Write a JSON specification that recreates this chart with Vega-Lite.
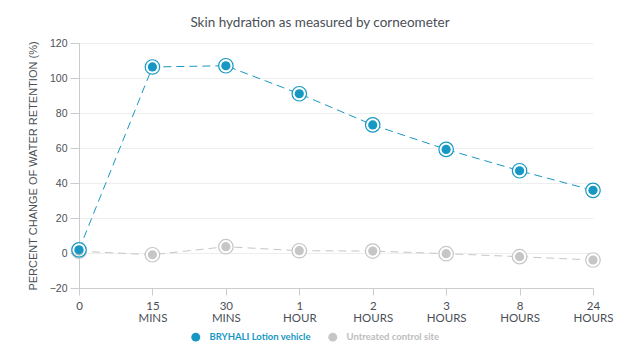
{
  "$schema": "https://vega.github.io/schema/vega-lite/v6.json",
  "width": 534,
  "height": 245,
  "autosize": {"type": "none"},
  "padding": {"left": 79, "top": 43, "right": 26, "bottom": 64},
  "background": "#ffffff",
  "title": {
    "text": "Skin hydration as measured by corneometer",
    "font": "Lato",
    "fontSize": 13.5,
    "fontWeight": "normal",
    "color": "#4a4f57",
    "anchor": "middle",
    "dx": -26,
    "offset": 9
  },
  "data": {
    "values": [
      {"time": "0", "series": "Untreated control site", "value": 1},
      {"time": "15 MINS", "series": "Untreated control site", "value": -1},
      {"time": "30 MINS", "series": "Untreated control site", "value": 3.6},
      {"time": "1 HOUR", "series": "Untreated control site", "value": 1.3},
      {"time": "2 HOURS", "series": "Untreated control site", "value": 1.1},
      {"time": "3 HOURS", "series": "Untreated control site", "value": -0.4},
      {"time": "8 HOURS", "series": "Untreated control site", "value": -2.1},
      {"time": "24 HOURS", "series": "Untreated control site", "value": -4},
      {"time": "0", "series": "BRYHALI Lotion vehicle", "value": 1.8},
      {"time": "15 MINS", "series": "BRYHALI Lotion vehicle", "value": 106.3},
      {"time": "30 MINS", "series": "BRYHALI Lotion vehicle", "value": 107},
      {"time": "1 HOUR", "series": "BRYHALI Lotion vehicle", "value": 91},
      {"time": "2 HOURS", "series": "BRYHALI Lotion vehicle", "value": 73.2},
      {"time": "3 HOURS", "series": "BRYHALI Lotion vehicle", "value": 59.2},
      {"time": "8 HOURS", "series": "BRYHALI Lotion vehicle", "value": 47},
      {"time": "24 HOURS", "series": "BRYHALI Lotion vehicle", "value": 35.8}
    ]
  },
  "encoding": {
    "x": {
      "field": "time",
      "type": "nominal",
      "sort": ["0", "15 MINS", "30 MINS", "1 HOUR", "2 HOURS", "3 HOURS", "8 HOURS", "24 HOURS"],
      "scale": {"type": "point", "range": [0, 514], "padding": 0},
      "axis": {
        "title": null,
        "labelAngle": 0,
        "labelExpr": "split(datum.label, ' ')",
        "labelFont": "Lato",
        "labelFontSize": 11.5,
        "labelColor": "#4a4f57",
        "labelLineHeight": 12,
        "labelPadding": 5,
        "tickSize": 7,
        "tickColor": "#cccccc",
        "domainColor": "#cccccc",
        "grid": false
      }
    },
    "y": {
      "field": "value",
      "type": "quantitative",
      "scale": {"domain": [-20, 120], "nice": false},
      "axis": {
        "title": "PERCENT CHANGE OF WATER RETENTION (%)",
        "titleFont": "Liberation Sans",
        "titleFontSize": 11,
        "titleFontWeight": "normal",
        "titleColor": "#4a4f57",
        "titlePadding": 11,
        "values": [-20, 0, 20, 40, 60, 80, 100, 120],
        "labelFont": "Liberation Sans",
        "labelFontSize": 10.5,
        "labelColor": "#4a4f57",
        "labelPadding": 3,
        "tickSize": 9,
        "tickColor": "#cccccc",
        "domainColor": "#cccccc",
        "gridColor": "#eeeeee"
      }
    },
    "color": {
      "field": "series",
      "type": "nominal",
      "scale": {
        "domain": ["BRYHALI Lotion vehicle", "Untreated control site"],
        "range": ["#1798c3", "#c6c6c6"]
      },
      "legend": {
        "title": null,
        "orient": "none",
        "direction": "horizontal",
        "legendX": 112,
        "legendY": 289,
        "symbolType": "circle",
        "symbolSize": 80,
        "symbolOpacity": 1,
        "symbolStrokeWidth": 0,
        "labelFont": "Lato",
        "labelFontSize": 9.5,
        "labelFontWeight": "bold",
        "labelOffset": 9,
        "columnPadding": 17,
        "encode": {
          "labels": {
            "update": {
              "fill": {"signal": "datum.value === 'BRYHALI Lotion vehicle' ? '#1798c3' : '#bdbdbd'"}
            }
          },
          "symbols": {
            "update": {
              "fill": {"signal": "datum.value === 'BRYHALI Lotion vehicle' ? '#1798c3' : '#c6c6c6'"},
              "opacity": {"value": 1}
            }
          }
        }
      }
    }
  },
  "layer": [
    {
      "mark": {"type": "line", "strokeWidth": 1, "strokeDash": [8, 5]},
      "encoding": {
        "detail": {"field": "series"}
      }
    },
    {
      "mark": {"type": "point", "filled": false, "fill": "#ffffff", "fillOpacity": 1, "size": 210, "strokeWidth": 1.2, "opacity": 1}
    },
    {
      "mark": {"type": "circle", "size": 85, "opacity": 1}
    }
  ],
  "config": {
    "view": {"stroke": null}
  }
}
